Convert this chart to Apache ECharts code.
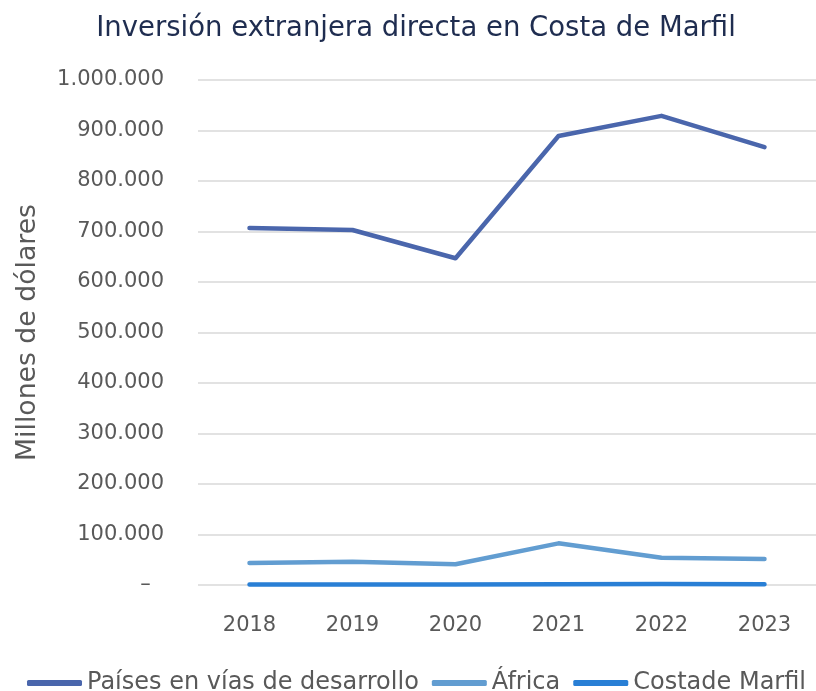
<!DOCTYPE html>
<html>
<head>
<meta charset="utf-8">
<script src="https://cdn.jsdelivr.net/npm/echarts@6/dist/echarts.min.js"></script>
<style>
  html,body{margin:0;padding:0;background:#fff;}
  #chart{width:816px;height:691px;}
</style>
</head>
<body>
<div id="chart"></div>
<script>
const years=['2018','2019','2020','2021','2022','2023'];
const paises=[707000,703000,647000,889000,929000,867000];
const africa=[43500,46000,41000,82500,54000,51500];
const costaMarfil=[1000,1000,1000,1500,1800,1700];
const colors=['#4a66ac','#629dd1','#297fd5'];

const chart=echarts.init(document.getElementById('chart'));

// etiquetas con punto como separador de miles
function fmt(v){
  if(v===0) return '–  ';
  return String(v).replace(/\B(?=(\d{3})+(?!\d))/g,'.');
}

const lineSeries=(name,data,color)=>({
  name:name,
  type:'line',
  data:data,
  symbol:'none',
  smooth:false,
  lineStyle:{width:4.5,color:color,cap:'round',join:'round'},
  itemStyle:{color:color}
});

const FONT='DejaVu Sans';

chart.setOption({
  animation:false,
  title:{
    text:'Inversión extranjera directa en Costa de Marfil',
    left:411,
    top:10,
    textAlign:'center',
    textStyle:{fontFamily:FONT,fontSize:27.5,fontWeight:'normal',color:'#1f2d50'}
  },
  legend:{
    bottom:-9,
    left:22,
    itemWidth:55,
    itemHeight:6,
    itemGap:13,
    icon:'roundRect',
    textStyle:{fontFamily:FONT,fontSize:24,color:'#595959'},
    data:['Países en vías de desarrollo','África','Costade Marfil']
  },
  grid:{left:198,top:80,width:627,height:505,containLabel:false},
  xAxis:{
    type:'category',
    data:years,
    boundaryGap:true,
    axisLine:{show:false},
    axisTick:{show:false},
    axisLabel:{fontFamily:FONT,fontSize:21,color:'#595959',margin:30}
  },
  yAxis:{
    type:'value',
    min:0,
    max:1000000,
    interval:100000,
    name:'Millones de dólares',
    nameLocation:'middle',
    nameGap:156,
    nameTextStyle:{fontFamily:FONT,fontSize:26.7,color:'#595959'},
    axisLine:{show:false},
    axisTick:{show:false},
    splitLine:{lineStyle:{color:'#d9d9d9',width:1.5}},
    axisLabel:{fontFamily:FONT,fontSize:21,color:'#595959',margin:34,formatter:fmt}
  },
  series:[
    lineSeries('Países en vías de desarrollo',paises,colors[0]),
    lineSeries('África',africa,colors[1]),
    lineSeries('Costade Marfil',costaMarfil,colors[2])
  ]
});
</script>
</body>
</html>
